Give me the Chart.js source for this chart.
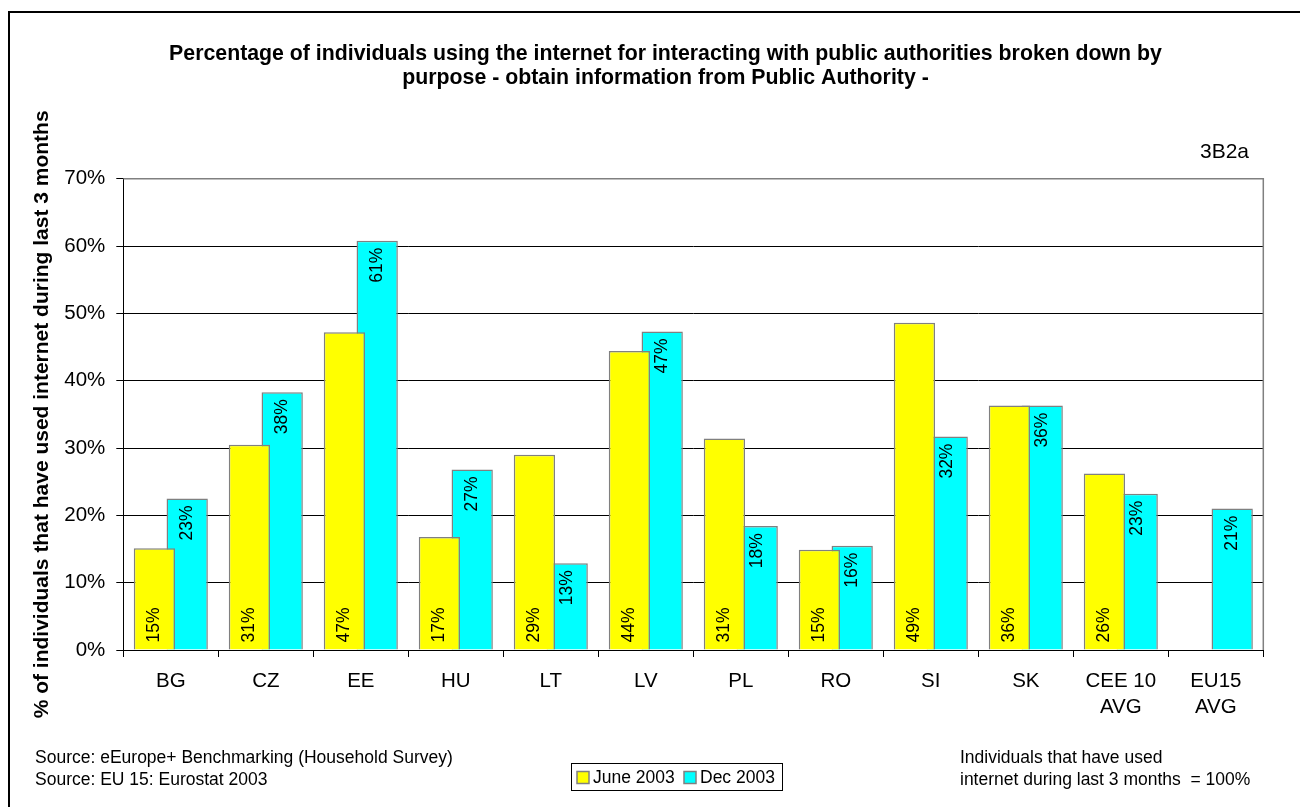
<!DOCTYPE html>
<html>
<head>
<meta charset="utf-8">
<script src="https://cdn.jsdelivr.net/npm/chart.js@4.4.1/dist/chart.umd.min.js"></script>
<style>
    html, body { margin: 0; padding: 0; background: #ffffff; }
    #chart { display: block; }
</style>
</head>
<body>
<canvas id="chart" width="1300" height="807"></canvas>
<script>
// values (percent)
const categories = ["BG", "CZ", "EE", "HU", "LT", "LV", "PL", "RO", "SI", "SK", ["CEE 10", "AVG"], ["EU15", "AVG"]];
const june2003 = [15.1, 30.5, 47.2, 16.8, 29.0, 44.4, 31.4, 14.9, 48.6, 36.3, 26.2, null];
const dec2003 = [22.5, 38.3, 60.8, 26.8, 12.9, 47.3, 18.4, 15.5, 31.7, 36.3, 23.2, 21.0];
const seriesLabels = ["June 2003", "Dec 2003"];
const seriesColors = ["#ffff00", "#00ffff"];
const yTicks = [0, 10, 20, 30, 40, 50, 60, 70];

const titleLines = [
    "Percentage of individuals using the internet for interacting with public authorities broken down by",
    "purpose - obtain information from Public Authority -"
];
const yTitle = "% of individuals that have used internet during last 3 months";
const chartCode = "3B2a";
const sourceLines = ["Source: eEurope+ Benchmarking (Household Survey)", "Source: EU 15: Eurostat 2003"];
const noteLines = ["Individuals that have used", "internet during last 3 months  = 100%"];

const FONT = "'Liberation Sans', Arial, sans-serif";
Chart.defaults.font.family = FONT;
Chart.defaults.color = "#000000";

// value labels inside the bars, rotated
const barLabels = {
    id: "barLabels",
    afterDatasetsDraw(chart) {
        const ctx = chart.ctx;
        ctx.save();
        ctx.font = "17.5px " + FONT;
        ctx.fillStyle = "#000000";
        ctx.textBaseline = "middle";
        chart.data.datasets.forEach((ds, di) => {
            const meta = chart.getDatasetMeta(di);
            meta.data.forEach((bar, i) => {
                const v = ds.data[i];
                if (v === null || v === undefined) return;
                const text = Math.round(v) + "%";
                ctx.save();
                if (di === 0) {
                    ctx.translate(bar.x, bar.base - 7);
                    ctx.rotate(-Math.PI / 2);
                    ctx.textAlign = "left";
                } else {
                    ctx.translate(bar.x, bar.y + 7);
                    ctx.rotate(-Math.PI / 2);
                    ctx.textAlign = "right";
                }
                ctx.fillText(text, 0, 0);
                ctx.restore();
            });
        });
        ctx.restore();
    }
};

// frame, title, code, footers and legend box
const decorations = {
    id: "decorations",
    beforeDatasetsDraw(chart) {
        const ctx = chart.ctx;
        const a = chart.chartArea;
        ctx.save();
        ctx.strokeStyle = "#808080";
        ctx.lineWidth = 1.5;
        ctx.beginPath();
        ctx.moveTo(a.left, a.top);
        ctx.lineTo(a.right, a.top);
        ctx.lineTo(a.right, a.bottom);
        ctx.stroke();
        ctx.restore();
    },
    afterDraw(chart) {
        const ctx = chart.ctx;
        ctx.save();
        // outer frame
        ctx.strokeStyle = "#000000";
        ctx.lineWidth = 2;
        ctx.strokeRect(9, 12, 1400, 900);

        ctx.fillStyle = "#000000";
        ctx.font = "bold 21.3px " + FONT;
        ctx.textAlign = "center";
        ctx.textBaseline = "middle";
        titleLines.forEach((t, i) => ctx.fillText(t, 665.5, 54.5 + i * 23.5));

        ctx.font = "21px " + FONT;
        ctx.textAlign = "right";
        ctx.textBaseline = "alphabetic";
        ctx.fillText(chartCode, 1249, 157.5);

        ctx.font = "17.5px " + FONT;
        ctx.textAlign = "left";
        ctx.textBaseline = "middle";
        sourceLines.forEach((t, i) => ctx.fillText(t, 35, 758 + i * 22.5));
        noteLines.forEach((t, i) => ctx.fillText(t, 960, 758 + i * 22.5));

        // legend
        ctx.strokeStyle = "#000000";
        ctx.lineWidth = 1;
        ctx.strokeRect(571.5, 763.5, 211, 27);
        const marks = [577, 684];
        seriesLabels.forEach((label, i) => {
            ctx.fillStyle = seriesColors[i];
            ctx.fillRect(marks[i], 771.5, 12, 12);
            ctx.strokeStyle = "#808080";
            ctx.lineWidth = 1.5;
            ctx.strokeRect(marks[i], 771.5, 12, 12);
            ctx.fillStyle = "#000000";
            ctx.fillText(label, marks[i] + 16, 778);
        });
        ctx.restore();
    }
};

new Chart(document.getElementById("chart"), {
    type: "bar",
    data: {
        labels: categories,
        datasets: [
            {
                label: seriesLabels[0],
                data: june2003,
                backgroundColor: seriesColors[0],
                borderColor: "#808080",
                borderWidth: 1.5,
                categoryPercentage: 0.69,
                barPercentage: 1.26
            },
            {
                label: seriesLabels[1],
                data: dec2003,
                backgroundColor: seriesColors[1],
                borderColor: "#808080",
                borderWidth: 1.5,
                categoryPercentage: 0.69,
                barPercentage: 1.26
            }
        ]
    },
    options: {
        responsive: false,
        animation: false,
        layout: {
            padding: { left: 0, right: 36.7, top: 178.7, bottom: 0 }
        },
        plugins: {
            legend: { display: false },
            tooltip: { enabled: false },
            title: { display: false }
        },
        scales: {
            x: {
                afterFit(scale) { scale.height = 157; },
                grid: {
                    drawOnChartArea: false,
                    drawTicks: true,
                    tickLength: 7,
                    color: "#000000",
                    offset: true
                },
                border: { color: "#000000", width: 1 },
                ticks: {
                    color: "#000000",
                    font: { size: 20.5, lineHeight: 1.25 },
                    padding: 12,
                    maxRotation: 0,
                    autoSkip: false
                }
            },
            y: {
                min: 0,
                max: 70,
                afterFit(scale) { scale.width = 123.3; },
                afterBuildTicks(scale) { scale.ticks = yTicks.map((v) => ({ value: v })); },
                grid: {
                    color: (c) => (c.tick && c.tick.value === 70 ? "rgba(0,0,0,0)" : "#000000"),
                    tickColor: "#000000",
                    tickLength: 7,
                    lineWidth: 1
                },
                border: { color: "#000000", width: 1 },
                ticks: {
                    color: "#000000",
                    font: { size: 20.5 },
                    padding: 11,
                    callback: (v) => v + "%"
                },
                title: {
                    display: true,
                    text: yTitle,
                    color: "#000000",
                    font: { size: 21, weight: "bold", lineHeight: 1.2 },
                    padding: { top: 30, bottom: 0 }
                }
            }
        }
    },
    plugins: [barLabels, decorations]
});
</script>
</body>
</html>
